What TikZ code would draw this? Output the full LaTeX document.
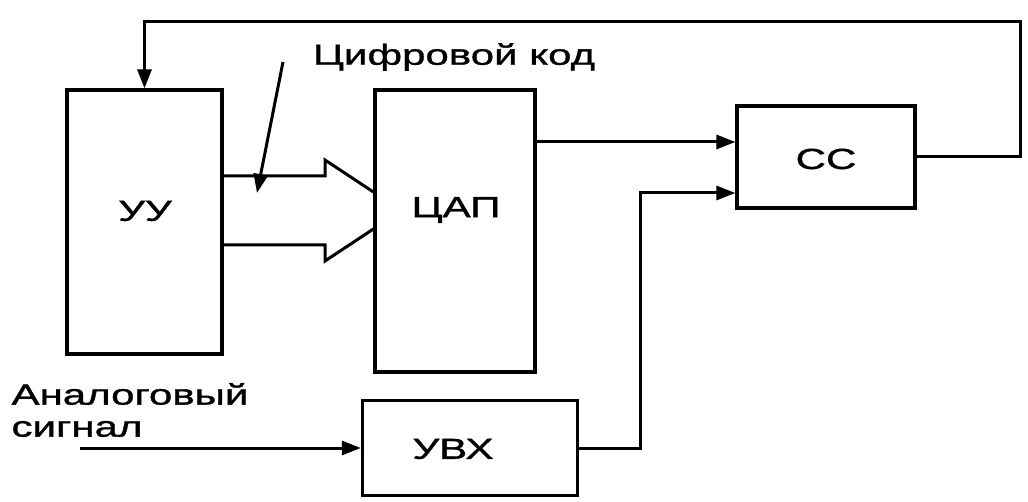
\documentclass[tikz,border=0pt]{standalone}
\usepackage{fontspec}
\setmainfont[FakeStretch=1.45,FakeBold=1.2]{Liberation Sans}
\usetikzlibrary{arrows.meta}
\tikzset{
  box/.style={draw, line width=3.2pt, inner sep=0pt},
  wire/.style={line width=3pt},
  arr/.style={wire, -{Triangle[length=19pt,width=14pt]}}
}
\newcommand{\lbl}{\fontsize{29}{32}\selectfont}

\begin{document}
\begin{tikzpicture}[x=1pt,y=-1pt,font=\lbl]
  \useasboundingbox (0,0) rectangle (1028,502);
  % blocks
  \node[box, minimum width=155pt, minimum height=264pt] (uu) at (144.5,222) {};
  \node[box, minimum width=160pt, minimum height=282pt] (cap) at (455,231) {};
  \node[box, minimum width=178pt, minimum height=102pt] (cc) at (826,157) {};
  \node[box, minimum width=215pt, minimum height=95pt] (uvx) at (470,448) {};
  \node (uuT) at (145,211) {УУ};
  \node (capT) at (456,210) {ЦАП};
  \node (ccT) at (826,159) {СС};
  \node (uvxT) at (453,449) {УВХ};
  % labels
  \node (kod) at (454,57) {Цифровой код};
  \node[anchor=west, align=left] (analog) at (8,410) {Аналоговый\\сигнал};
  % wide arrow (code bus)
  \draw[wire] (uu.east |- 0,176) -- (325,176) -- (325,160) -- (cap.west |- 0,192);
  \draw[wire] (uu.east |- 0,245) -- (325,245) -- (325,261) -- (cap.west |- 0,229);
  \coordinate (kodA) at (283,62);
  \coordinate (kodB) at (257,193);
  \draw[arr] (kodA) -- (kodB);
  % signal paths
  \coordinate (ain) at (80,448);
  \coordinate (fb) at (1020,22);
  \draw[arr] (ain) -- (uvx.west);
  \draw[arr] (cap.east |- 0,142) -- (cc.west |- 0,142);
  \draw[arr] (uvx.east) -| (640,193) -- (cc.west |- 0,193);
  \draw[arr] (cc.east) -| (fb) -| (uu.north);
\end{tikzpicture}
\end{document}
